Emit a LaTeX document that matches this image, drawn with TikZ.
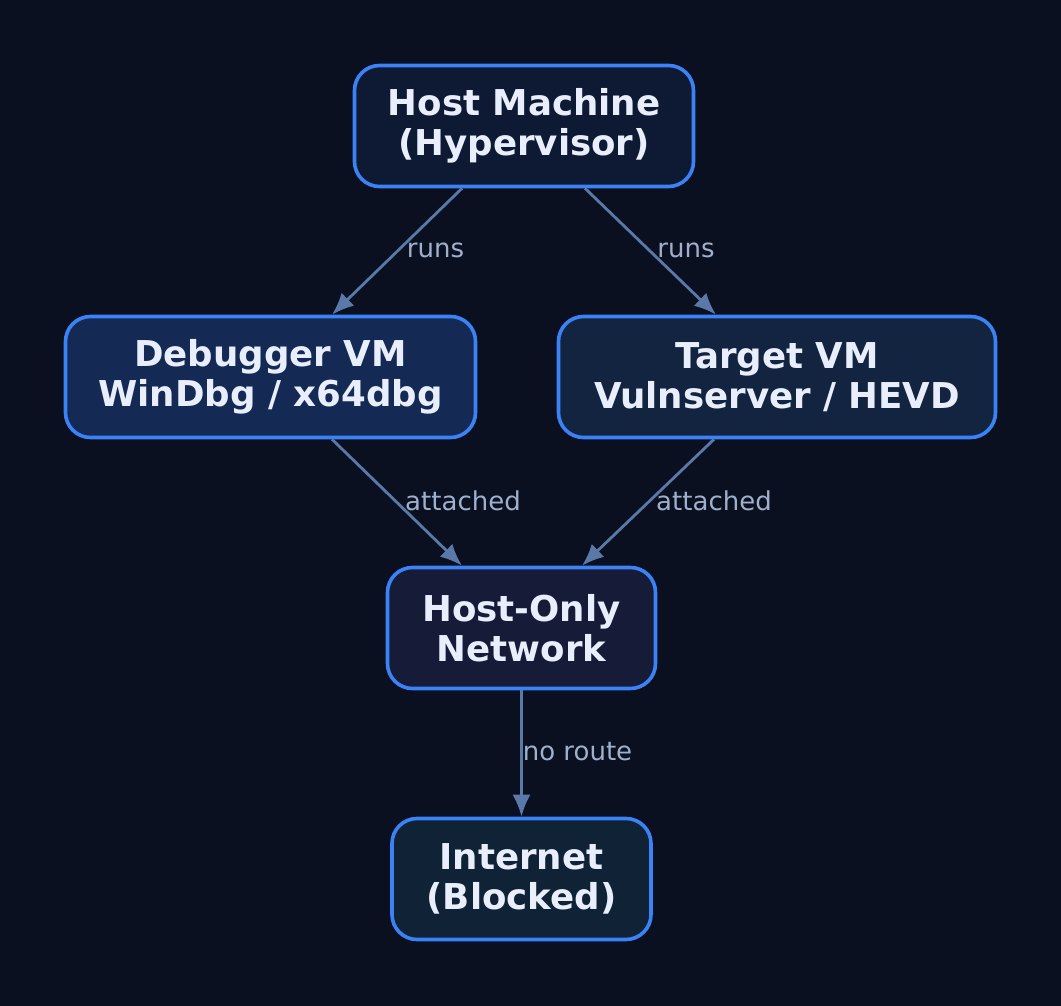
\documentclass[tikz,border=0pt]{standalone}
\usepackage{fontspec}
\setmainfont{DejaVu Sans}
\usetikzlibrary{arrows.meta,positioning}
\definecolor{cbg}{HTML}{0A1020}
\definecolor{cborder}{HTML}{3B82F6}
\definecolor{cedge}{HTML}{5A79A8}
\definecolor{clabel}{HTML}{9FB0CC}
\definecolor{ctext}{HTML}{E8EEFC}
\definecolor{fhost}{HTML}{0E1A33}
\definecolor{fdbg}{HTML}{142A55}
\definecolor{ftarget}{HTML}{12243F}
\definecolor{fnet}{HTML}{161C38}
\definecolor{finet}{HTML}{0F2236}

\begin{document}
\begin{tikzpicture}[x=0.5pt,y=-0.5pt,
    box/.style={draw=cborder,line width=1.8pt,rounded corners=12.5pt,
      minimum height=60.5pt,align=center,text=ctext,
      font=\fontsize{17.8}{20}\selectfont\bfseries},
    link/.style={draw=cedge,line width=1.4pt,-{Latex[length=11pt,width=9pt]}},
    tag/.style={text=clabel,font=\fontsize{13}{15}\selectfont,inner sep=0pt}]
    \fill[cbg] (0,0) rectangle (1061,1006);
    \useasboundingbox (0,0) rectangle (1061,1006);
    % nodes
    \node[box,fill=fhost,minimum width=169.5pt] (host) at (524,126) {Host Machine\\(Hypervisor)};
    \node[box,fill=fdbg,minimum width=205pt] (dbg) at (270.5,377) {Debugger VM\\WinDbg / x64dbg};
    \node[box,fill=ftarget,minimum width=218.5pt] (target) at (777,377) {Target VM\\Vulnserver / HEVD};
    \node[box,fill=fnet,minimum width=134pt] (hostonly) at (521.5,628) {Host-Only\\Network};
    \node[box,fill=finet,minimum width=129.5pt] (inet) at (521.5,879) {Internet\\(Blocked)};
    % edges
    \draw[link] ([xshift=-31pt]host.south) -- ([xshift=30.75pt]dbg.north);
    \draw[link] ([xshift=30.5pt]host.south) -- ([xshift=-30.5pt]target.north);
    \draw[link] ([xshift=30.75pt]dbg.south) -- ([xshift=-29.75pt]hostonly.north);
    \draw[link] ([xshift=-31.5pt]target.south) -- ([xshift=30.25pt]hostonly.north);
    \draw[link] (hostonly.south) -- (inet.north);
    % edge labels
    \node[tag] (runsl) at (435.5,250) {runs};
    \node[tag] (runsr) at (686,250) {runs};
    \node[tag] (attl) at (463,501) {attached};
    \node[tag] (attr) at (714,501) {attached};
    \node[tag] (noroute) at (577.5,752) {no route};
\end{tikzpicture}
\end{document}
